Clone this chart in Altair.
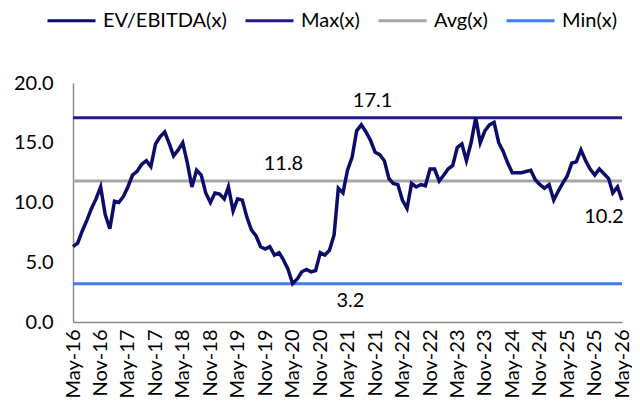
import altair as alt
import pandas as pd

start = "2016-05-01"
n_months = 121
ev = [6.3, 6.6, 7.6, 8.5, 9.5, 10.3, 11.3, 9.0, 7.8, 10.1,
      10.0, 10.5, 11.3, 12.3, 12.6, 13.2, 13.5, 13.0, 14.9, 15.5,
      15.9, 14.9, 13.9, 14.4, 15.0, 13.3, 11.3, 12.7, 12.3, 10.8,
      10.0, 10.8, 10.7, 10.3, 11.3, 9.3, 10.3, 10.2, 8.8, 7.7,
      7.2, 6.3, 6.1, 6.3, 5.6, 5.8, 5.2, 4.4, 3.2, 3.6,
      4.2, 4.4, 4.2, 4.3, 5.8, 5.6, 6.0, 7.3, 11.2, 10.8,
      12.7, 13.8, 16.0, 16.5, 15.9, 15.2, 14.2, 14.0, 13.5, 12.0,
      11.6, 11.5, 10.2, 9.5, 11.6, 11.3, 11.5, 11.4, 12.8, 12.8,
      11.8, 12.3, 12.8, 13.1, 14.6, 14.9, 13.5, 15.0, 17.1, 15.0,
      16.0, 16.5, 16.7, 15.0, 14.3, 13.3, 12.5, 12.5, 12.5, 12.6,
      12.7, 11.9, 11.5, 11.2, 11.5, 10.2, 10.9, 11.6, 12.2, 13.3,
      13.4, 14.4, 13.5, 12.8, 12.3, 12.8, 12.4, 12.0, 10.8, 11.3,
      10.2]
max_v = 17.1
avg_v = 11.8
min_v = 3.2
last_v = 10.2

series = ["EV/EBITDA(x)", "Max(x)", "Avg(x)", "Min(x)"]
colors = ["#0C0C6A", "#231A8E", "#A6A6A6", "#3F7DF2"]

label_text = ["17.1", "11.8", "3.2", "10.2"]
label_value = [max_v, avg_v, min_v, last_v]
label_date = ["2021-10-15", "2020-03-01", "2021-05-20", "2026-01-01"]
label_pos = ["above", "above", "below", "below"]

dates = pd.date_range(start, periods=n_months, freq="MS")
ev_df = pd.DataFrame({"date": dates, "value": ev, "series": series[0]})
ref_rows = []
for name, v in zip(series[1:], [max_v, avg_v, min_v]):
    for d in dates:
        ref_rows.append({"date": d, "value": v, "series": name})
ref_df = pd.DataFrame(ref_rows)

lab_df = pd.DataFrame({"date": pd.to_datetime(label_date), "value": label_value,
                       "text": label_text, "pos": label_pos})

tick_dates = pd.date_range(start, periods=21, freq="6MS")
tick_ms = [int(d.value // 1_000_000) for d in tick_dates]

FS = 20

xenc = alt.X("date:T", title=None,
             scale=alt.Scale(domain=[tick_ms[0], tick_ms[-1]]),
             axis=alt.Axis(values=tick_ms, format="%b-%y", labelAngle=270,
                           labelFontSize=FS, labelColor="#000000", ticks=False,
                           domainColor="#8C8C8C", domainWidth=1.5, labelPadding=7,
                           grid=False, labelOverlap=False, labelSeparation=0,
                           labelFlush=False, labelBound=False))
yenc = alt.Y("value:Q", title=None,
             scale=alt.Scale(domain=[0, 20], nice=False, zero=True),
             axis=alt.Axis(values=[0, 5, 10, 15, 20], format=".1f", labelFontSize=FS,
                           labelColor="#000000", ticks=False, domainColor="#8C8C8C",
                           domainWidth=1.5, labelPadding=20, grid=False))
color = alt.Color("series:N", scale=alt.Scale(domain=series, range=colors),
                  legend=alt.Legend(title=None, orient="none", legendX=-27, legendY=-88,
                                    direction="horizontal", symbolType="stroke",
                                    symbolSize=2304, symbolStrokeWidth=3,
                                    labelFontSize=FS, labelColor="#000000",
                                    labelOffset=6, columnPadding=12))

ref_lines = alt.Chart(ref_df).mark_line(strokeWidth=3).encode(
    x=xenc, y=yenc, color=color)
ev_line = alt.Chart(ev_df).mark_line(strokeWidth=3.5).encode(
    x=xenc, y=yenc, color=color)

above = alt.Chart(lab_df).transform_filter(alt.datum.pos == "above").mark_text(
    dy=-17, fontSize=FS, color="#000000", baseline="middle").encode(
    x=xenc, y=yenc, text="text:N")
below = alt.Chart(lab_df).transform_filter(alt.datum.pos == "below").mark_text(
    dy=17, fontSize=FS, color="#000000", baseline="middle").encode(
    x=xenc, y=yenc, text="text:N")

chart = alt.layer(ref_lines, ev_line, above, below).properties(
    width=549, height=239,
    autosize=alt.AutoSizeParams(type="none"),
    padding={"left": 65, "top": 75, "right": 10, "bottom": 83},
).configure(font="Lato").configure_view(stroke=None).configure_axis(labelOverlap=False)

chart.save("out.html", embed_options={"renderer": "svg", "actions": False})
